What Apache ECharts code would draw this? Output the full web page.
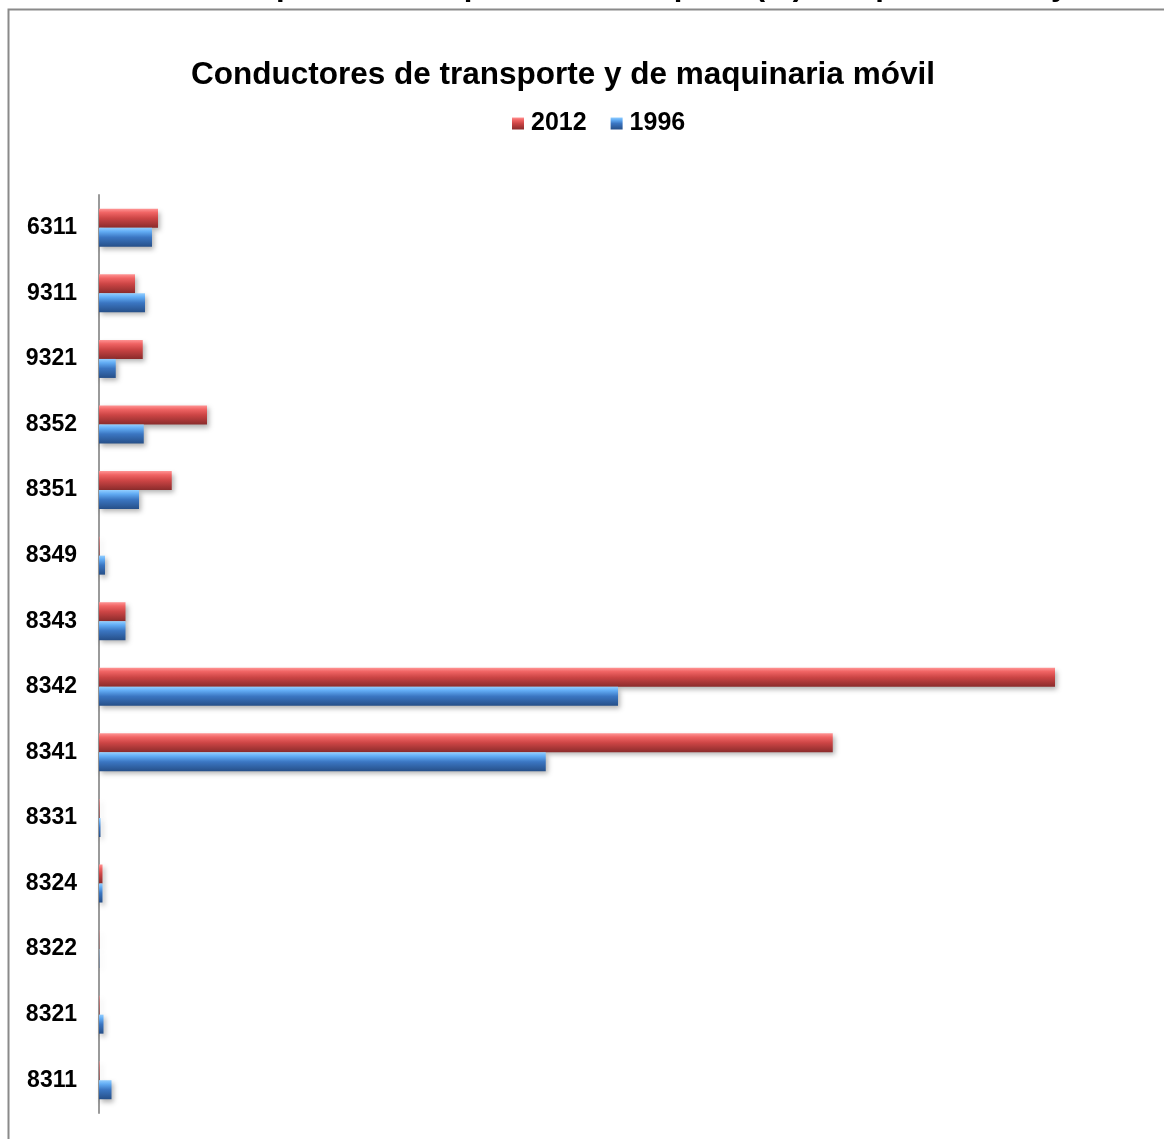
<!DOCTYPE html>
<html>
<head>
<meta charset="utf-8">
<script src="https://cdn.jsdelivr.net/npm/echarts@6/dist/echarts.min.js"></script>
<style>
  html, body { margin: 0; padding: 0; background: #fff; }
  #chart { width: 1164px; height: 1139px; }
</style>
</head>
<body>
<div id="chart"></div>
<script>
// grupos (de arriba hacia abajo)
const categories = ['6311', '9311', '9321', '8352', '8351', '8349', '8343', '8342', '8341', '8331', '8324', '8322', '8321', '8311'];
// participación (%) estimada
const values2012 = [2.36, 1.44, 1.75, 4.32, 2.91, 0.02, 1.06, 38.24, 29.35, 0.02, 0.14, 0.01, 0.02, 0.02];
const values1996 = [2.12, 1.84, 0.67, 1.79, 1.60, 0.24, 1.06, 20.76, 17.87, 0.06, 0.14, 0.01, 0.18, 0.50];

const chart = echarts.init(document.getElementById('chart'));

// relleno tipo bisel: claro arriba, oscuro abajo
const redFill = new echarts.graphic.LinearGradient(0, 0, 0, 1, [
  { offset: 0, color: '#ff9494' },
  { offset: 0.2, color: '#f06464' },
  { offset: 0.5, color: '#cc4545' },
  { offset: 1, color: '#8a2b2b' }
]);
const blueFill = new echarts.graphic.LinearGradient(0, 0, 0, 1, [
  { offset: 0, color: '#92ceff' },
  { offset: 0.2, color: '#62acf4' },
  { offset: 0.5, color: '#3b76c2' },
  { offset: 1, color: '#264f88' }
]);

const font = 'Liberation Sans, Arial, sans-serif';

chart.setOption({
  animation: false,
  title: {
    text: 'Conductores de transporte y de maquinaria móvil',
    left: 186,
    top: 54,
    textStyle: {
      fontFamily: font,
      fontWeight: 'bold',
      fontSize: 31.5,
      color: '#000'
    }
  },
  legend: {
    left: 507,
    top: 106,
    itemWidth: 12,
    itemHeight: 12,
    itemGap: 24,
    icon: 'rect',
    data: ['2012', '1996'],
    textStyle: {
      fontFamily: font,
      fontWeight: 'bold',
      fontSize: 25,
      color: '#000',
      padding: [0, 0, 0, 2]
    }
  },
  graphic: [
    {
      type: 'rect',
      left: 6,
      top: 7,
      shape: { width: 1200, height: 1200 },
      style: { fill: 'none', stroke: '#8a8a8a', lineWidth: 2 },
      z: -1
    },
    {
      type: 'text',
      left: 14,
      top: -29,
      style: {
        text: 'Gráfica 14. Participación en la población ocupada (%). Grupo 83, 1996 y 2012',
        font: 'bold 31px "Liberation Sans", Arial, sans-serif',
        fill: '#000'
      }
    }
  ],
  grid: {
    left: 99,
    right: 65,
    top: 195,
    height: 918
  },
  xAxis: {
    type: 'value',
    min: 0,
    max: 40,
    show: false
  },
  yAxis: {
    type: 'category',
    inverse: true,
    data: categories,
    axisLine: { lineStyle: { color: '#9a9a9a', width: 2 } },
    axisTick: { show: false },
    axisLabel: {
      margin: 22,
      fontFamily: font,
      fontWeight: 'bold',
      fontSize: 23,
      color: '#000'
    }
  },
  series: [
    {
      name: '2012',
      type: 'bar',
      data: values2012,
      barGap: '0%',
      barCategoryGap: '42%',
      itemStyle: {
        color: redFill,
        shadowColor: 'rgba(0,0,0,0.3)',
        shadowBlur: 5,
        shadowOffsetX: 2,
        shadowOffsetY: 3
      }
    },
    {
      name: '1996',
      type: 'bar',
      data: values1996,
      itemStyle: {
        color: blueFill,
        shadowColor: 'rgba(0,0,0,0.3)',
        shadowBlur: 5,
        shadowOffsetX: 2,
        shadowOffsetY: 3
      }
    }
  ]
});
</script>
</body>
</html>
